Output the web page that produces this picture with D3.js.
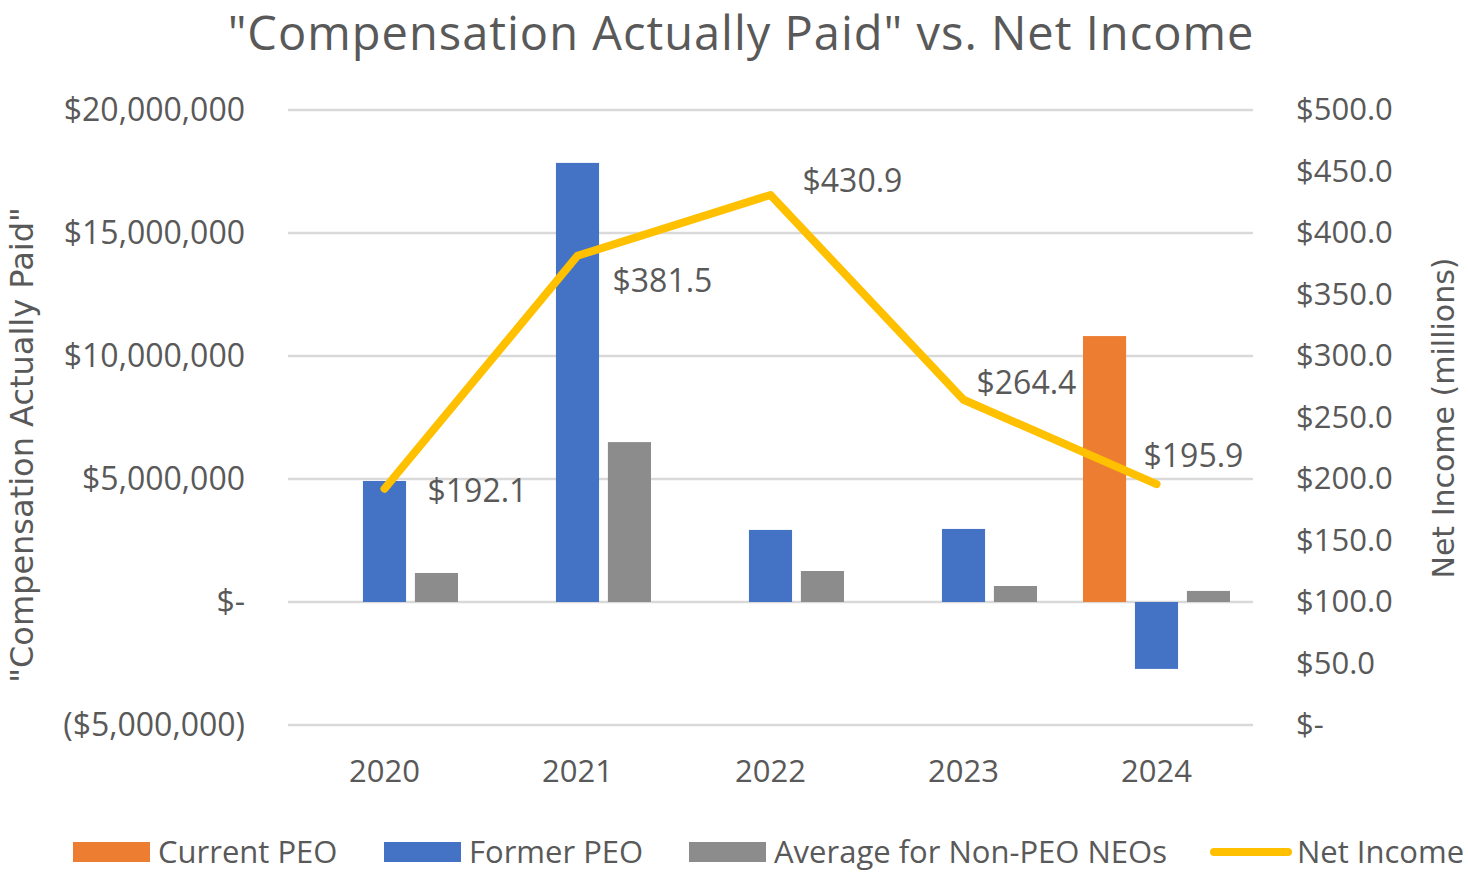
<!DOCTYPE html>
<html>
<head>
<meta charset="utf-8">
<script src="https://cdn.jsdelivr.net/npm/d3@7"></script>
<style>
  body { margin: 0; background: #fff; }
  text { font-family: "Open Sans", sans-serif; fill: #595959; }
</style>
</head>
<body>
<div id="chart"></div>
<script>
// Chart data
var years = ["2020", "2021", "2022", "2023", "2024"];
var seriesNames = ["Current PEO", "Former PEO", "Average for Non-PEO NEOs"];
var currentPEO = [null, null, null, null, 10810000];
var formerPEO = [4920000, 17850000, 2930000, 2970000, -2720000];
var avgNonPEO = [1180000, 6500000, 1260000, 650000, 450000];
var netIncome = [192.1, 381.5, 430.9, 264.4, 195.9];
var leftTicks = [-5000000, 0, 5000000, 10000000, 15000000, 20000000];
var rightTicks = [0, 50, 100, 150, 200, 250, 300, 350, 400, 450, 500];

// label offsets for the net income labels (dx, dy from point)
var labelOffsets = [[43, 2], [35, 25], [32, -14], [13, -17], [-13, -28]];

var colors = { "Current PEO": "#ED7D31", "Former PEO": "#4472C4", "Average for Non-PEO NEOs": "#8C8C8C" };
var lineColor = "#FFC000";

var svgWidth = 1468;
var svgHeight = 874;

var plot = { left: 288, right: 1253, top: 110, bottom: 725 };

var svg = d3.select("#chart")
  .append("svg")
  .attr("width", svgWidth)
  .attr("height", svgHeight);

var xScale = d3.scaleBand()
  .domain(years)
  .range([plot.left, plot.right])
  .padding(0);

var xInner = d3.scaleBand()
  .domain(seriesNames)
  .range([23, xScale.bandwidth() - 23])
  .paddingInner(0.17);

var yLeft = d3.scaleLinear()
  .domain([-5000000, 20000000])
  .range([plot.bottom, plot.top]);

var yRight = d3.scaleLinear()
  .domain([0, 500])
  .range([plot.bottom, plot.top]);

// gridlines
svg.append("g")
  .selectAll("line")
  .data(leftTicks)
  .enter()
  .append("line")
  .attr("x1", plot.left)
  .attr("x2", plot.right)
  .attr("y1", d => yLeft(d))
  .attr("y2", d => yLeft(d))
  .attr("stroke", "#D9D9D9")
  .attr("stroke-width", 2.5);

// formats
var leftFormat = function(d) {
  if (d === 0) return "$-";
  var s = "$" + d3.format(",")(Math.abs(d));
  return d < 0 ? "(" + s + ")" : s;
};
var rightFormat = function(d) {
  return d === 0 ? "$-" : "$" + d3.format(".1f")(d);
};

// axes
var leftAxis = d3.axisLeft(yLeft).tickValues(leftTicks).tickFormat(leftFormat).tickSize(0).tickPadding(0);
var rightAxis = d3.axisRight(yRight).tickValues(rightTicks).tickFormat(rightFormat).tickSize(0).tickPadding(0);
var bottomAxis = d3.axisBottom(xScale).tickSize(0).tickPadding(0);

var gl = svg.append("g").attr("transform", "translate(245, 0)").call(leftAxis);
var gr = svg.append("g").attr("transform", "translate(1296, 0)").call(rightAxis);
var gb = svg.append("g").attr("transform", "translate(0, 760)").call(bottomAxis);

[gl, gr, gb].forEach(function(g) {
  g.select(".domain").remove();
  g.selectAll("text")
    .style("font-family", "'Open Sans', sans-serif")
    .style("font-size", "31px")
    .attr("fill", "#595959");
});
gl.selectAll("text").style("font-size", "32px");
gb.selectAll("text").attr("dy", "0.71em");

// bars
var barData = [];
years.forEach(function(y, i) {
  barData.push({ year: y, name: "Current PEO", value: currentPEO[i] });
  barData.push({ year: y, name: "Former PEO", value: formerPEO[i] });
  barData.push({ year: y, name: "Average for Non-PEO NEOs", value: avgNonPEO[i] });
});

svg.append("g")
  .selectAll("rect")
  .data(barData.filter(d => d.value !== null))
  .enter()
  .append("rect")
  .attr("x", d => xScale(d.year) + xInner(d.name))
  .attr("width", xInner.bandwidth())
  .attr("y", d => Math.min(yLeft(d.value), yLeft(0)))
  .attr("height", d => Math.abs(yLeft(d.value) - yLeft(0)))
  .attr("fill", d => colors[d.name]);

// net income line
var line = d3.line()
  .x((d, i) => xScale(years[i]) + xScale.bandwidth() / 2)
  .y(d => yRight(d));

svg.append("path")
  .datum(netIncome)
  .attr("d", line)
  .attr("fill", "none")
  .attr("stroke", lineColor)
  .attr("stroke-width", 8)
  .attr("stroke-linecap", "round")
  .attr("stroke-linejoin", "round");

// data labels
svg.append("g")
  .selectAll("text")
  .data(netIncome)
  .enter()
  .append("text")
  .attr("x", (d, i) => xScale(years[i]) + xScale.bandwidth() / 2 + labelOffsets[i][0])
  .attr("y", (d, i) => yRight(d) + labelOffsets[i][1])
  .attr("dy", "0.35em")
  .style("font-size", "32px")
  .text(d => "$" + d3.format(".1f")(d));

// title
svg.append("text")
  .attr("x", 741)
  .attr("y", 50)
  .attr("text-anchor", "middle")
  .style("font-size", "47px")
  .style("letter-spacing", "1px")
  .text("\"Compensation Actually Paid\" vs. Net Income");

// axis titles
svg.append("text")
  .attr("transform", "translate(22, 445) rotate(-90)")
  .attr("text-anchor", "middle")
  .attr("dy", "0.35em")
  .style("font-family", "'DejaVu Sans', sans-serif")
  .style("font-size", "32px")
  .text("\"Compensation Actually Paid\"");

svg.append("text")
  .attr("transform", "translate(1443, 418) rotate(-90)")
  .attr("text-anchor", "middle")
  .attr("dy", "0.35em")
  .style("font-family", "'DejaVu Sans', sans-serif")
  .style("font-size", "30px")
  .text("Net Income (millions)");

// legend
var legendItems = [
  { name: "Current PEO", x: 73, type: "rect" },
  { name: "Former PEO", x: 384, type: "rect" },
  { name: "Average for Non-PEO NEOs", x: 689, type: "rect" },
  { name: "Net Income", x: 1212, type: "line" }
];

var legend = svg.append("g").attr("transform", "translate(0, 852)");

legendItems.forEach(function(item) {
  if (item.type === "rect") {
    legend.append("rect")
      .attr("x", item.x)
      .attr("y", -10)
      .attr("width", 77)
      .attr("height", 20)
      .attr("fill", colors[item.name]);
  } else {
    legend.append("line")
      .attr("x1", item.x + 2)
      .attr("x2", item.x + 76)
      .attr("stroke", lineColor)
      .attr("stroke-width", 8)
      .attr("stroke-linecap", "round");
  }
  legend.append("text")
    .attr("x", item.x + 85)
    .attr("dy", "0.35em")
    .style("font-size", "31px")
    .text(item.name);
});
</script>
</body>
</html>
